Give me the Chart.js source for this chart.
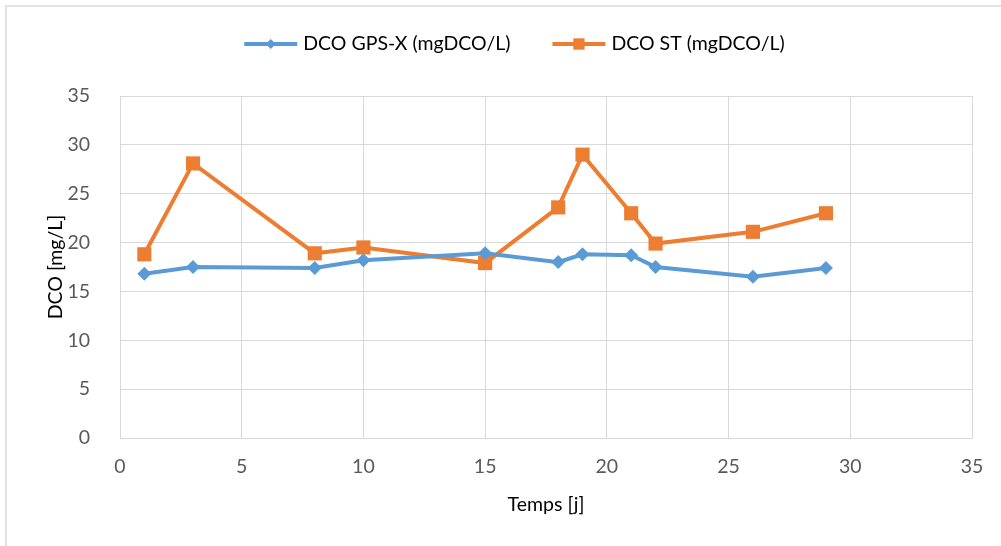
<!DOCTYPE html>
<html>
<head>
<meta charset="utf-8">
<script src="https://cdn.jsdelivr.net/npm/chart.js@4"></script>
<style>
  html, body { margin: 0; padding: 0; background: #fff; overflow: hidden; }
  #wrap { position: relative; width: 1001px; height: 546px; }
  #frame {
    position: absolute; left: 5px; top: 5px; width: 1020px; height: 600px;
    border: 2px solid #e3e3e3; box-sizing: border-box;
  }
  canvas { position: absolute; left: 0; top: 0; }
</style>
</head>
<body>
<div id="wrap">
  <div id="frame"></div>
  <canvas id="chart" width="1001" height="546"></canvas>
</div>
<script>
// ================================
// DATA
// ================================
const days = [1, 3, 8, 10, 15, 18, 19, 21, 22, 26, 29];
const dcoGpsx = [16.8, 17.5, 17.4, 18.2, 18.9, 18.0, 18.8, 18.7, 17.5, 16.5, 17.4];
const dcoSt = [18.8, 28.1, 18.9, 19.5, 17.9, 23.6, 29.0, 23.0, 19.9, 21.1, 23.0];
const seriesNames = ['DCO GPS-X (mgDCO/L)', 'DCO ST (mgDCO/L)'];
const xTitle = 'Temps [j]';
const yTitle = 'DCO [mg/L]';

// ================================
// STYLE
// ================================
const BLUE = '#5b9bd5';
const ORANGE = '#ed7d31';
const GRID = '#d9d9d9';
const TEXT = '#595959';
const FONT = 'Lato, "Open Sans", sans-serif';
const FS = 19.5;

const toPoints = (ys) => days.map((x, i) => ({ x, y: ys[i] }));

// legend drawn as line + marker, like the spreadsheet original
const lineLegend = {
  id: 'lineLegend',
  afterDraw(chart) {
    const ctx = chart.ctx;
    const y = 44;
    const lineW = 53;
    const gapText = 6;
    const gapItem = 42;
    ctx.save();
    ctx.font = FS + 'px ' + FONT;
    const items = chart.data.datasets.map(ds => ({
      ds, w: lineW + gapText + ctx.measureText(ds.label).width
    }));
    const total = items.reduce((s, it) => s + it.w, 0) + gapItem * (items.length - 1);
    let x = (chart.width - total) / 2 + 14;
    items.forEach(({ ds, w }) => {
      ctx.strokeStyle = ds.borderColor;
      ctx.lineWidth = 4;
      ctx.beginPath();
      ctx.moveTo(x, y);
      ctx.lineTo(x + lineW, y);
      ctx.stroke();
      ctx.fillStyle = ds.borderColor;
      Chart.helpers.drawPoint(ctx, {
        pointStyle: ds.pointStyle,
        radius: ds.pointStyle === 'rect' ? 8 : 5,
        borderWidth: 0
      }, x + lineW / 2, y);
      ctx.fillStyle = '#000';
      ctx.textBaseline = 'middle';
      ctx.textAlign = 'left';
      ctx.fillText(ds.label, x + lineW + gapText, y);
      x += w + gapItem;
    });
    ctx.restore();
  }
};

// ================================
// CHART
// ================================
new Chart(document.getElementById('chart'), {
  type: 'line',
  data: {
    datasets: [
      {
        label: seriesNames[0],
        data: toPoints(dcoGpsx),
        borderColor: BLUE,
        backgroundColor: BLUE,
        borderWidth: 4,
        pointStyle: 'rectRot',
        pointRadius: 7,
        pointBorderWidth: 0,
        tension: 0
      },
      {
        label: seriesNames[1],
        data: toPoints(dcoSt),
        borderColor: ORANGE,
        backgroundColor: ORANGE,
        borderWidth: 4,
        pointStyle: 'rect',
        pointRadius: 10,
        pointBorderWidth: 0,
        tension: 0
      }
    ]
  },
  options: {
    responsive: false,
    animation: false,
    layout: { padding: { left: 0, right: 29, top: 96, bottom: 0 } },
    plugins: {
      legend: { display: false },
      tooltip: { enabled: false }
    },
    scales: {
      x: {
        type: 'linear',
        min: 0, max: 35,
        ticks: { stepSize: 5, padding: 17, color: TEXT, font: { family: FONT, size: FS }, maxRotation: 0 },
        grid: { color: GRID, drawTicks: false },
        border: { color: GRID },
        title: { display: true, text: xTitle, color: '#000', padding: { top: 0, bottom: 30 }, font: { family: FONT, size: FS } },
        afterFit(scale) { scale.height = 108; }
      },
      y: {
        min: 0, max: 35,
        ticks: { stepSize: 5, padding: 30, color: TEXT, font: { family: FONT, size: FS } },
        grid: { color: GRID, drawTicks: false },
        border: { color: GRID },
        title: { display: true, text: yTitle, color: '#000', padding: { top: 44, bottom: 0 }, font: { family: FONT, size: FS } },
        afterFit(scale) { scale.width = 120; }
      }
    }
  },
  plugins: [lineLegend]
});
</script>
</body>
</html>
